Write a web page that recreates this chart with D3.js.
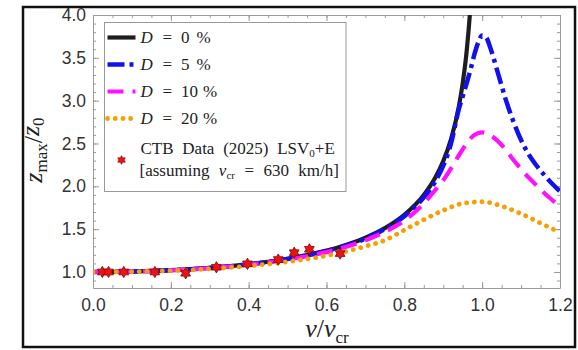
<!DOCTYPE html>
<html><head><meta charset="utf-8">
<script src="https://cdn.jsdelivr.net/npm/d3@7"></script>
<style>
html,body{margin:0;padding:0;background:#fff;}
svg{display:block;}
</style></head>
<body>
<svg id="chart" width="578" height="350"></svg>
<script>
// ---- data ----
const xTickVals = [0.0, 0.2, 0.4, 0.6, 0.8, 1.0, 1.2];
const xTickLabels = ["0.0", "0.2", "0.4", "0.6", "0.8", "1.0", "1.2"];
const yTickVals = [1.0, 1.5, 2.0, 2.5, 3.0, 3.5, 4.0];
const yTickLabels = ["1.0", "1.5", "2.0", "2.5", "3.0", "3.5", "4.0"];

const alphaD0 = [0, 0.1, 0.2, 0.3, 0.4, 0.5, 0.6, 0.65, 0.7, 0.75, 0.8, 0.85, 0.88, 0.9, 0.92, 0.94, 0.95, 0.96, 0.97, 0.975];
const zD0 = [1.000, 1.005, 1.021, 1.048, 1.091, 1.155, 1.250, 1.316, 1.400, 1.512, 1.667, 1.898, 2.105, 2.294, 2.551, 2.931, 3.203, 3.571, 4.113, 4.50];

const alphaD5 = [0, 0.1, 0.2, 0.3, 0.4, 0.5, 0.6, 0.7, 0.75, 0.8, 0.85, 0.88, 0.9, 0.92, 0.94, 0.95, 0.96, 0.97, 0.98, 0.99, 1.0, 1.01, 1.02, 1.04, 1.06, 1.08, 1.1, 1.12, 1.14, 1.16, 1.18, 1.2];
const zD5 = [1.000, 1.005, 1.020, 1.047, 1.089, 1.152, 1.245, 1.39, 1.50, 1.65, 1.87, 2.06, 2.24, 2.50, 2.90, 3.05, 3.20, 3.36, 3.54, 3.68, 3.76, 3.74, 3.63, 3.33, 3.02, 2.76, 2.54, 2.37, 2.24, 2.13, 2.03, 1.94];

const alphaD10 = [0, 0.1, 0.2, 0.3, 0.4, 0.5, 0.6, 0.7, 0.75, 0.8, 0.85, 0.88, 0.9, 0.92, 0.94, 0.96, 0.98, 1.0, 1.02, 1.04, 1.06, 1.08, 1.1, 1.12, 1.14, 1.16, 1.18, 1.2];
const zD10 = [1.000, 1.005, 1.019, 1.045, 1.085, 1.145, 1.232, 1.37, 1.47, 1.60, 1.80, 1.96, 2.07, 2.21, 2.36, 2.50, 2.60, 2.63, 2.60, 2.53, 2.43, 2.31, 2.20, 2.10, 2.01, 1.92, 1.84, 1.76];

const alphaD20 = [0, 0.1, 0.2, 0.3, 0.4, 0.5, 0.6, 0.7, 0.75, 0.8, 0.85, 0.9, 0.95, 1.0, 1.05, 1.1, 1.15, 1.2];
const zD20 = [1.000, 1.003, 1.015, 1.036, 1.07, 1.12, 1.19, 1.30, 1.37, 1.49, 1.61, 1.72, 1.80, 1.82, 1.77, 1.68, 1.57, 1.46];

const ctbV = [0.024, 0.040, 0.079, 0.159, 0.238, 0.317, 0.397, 0.476, 0.517, 0.556, 0.635];
const ctbZ = [1.00, 1.00, 1.00, 1.00, 0.985, 1.055, 1.095, 1.145, 1.225, 1.265, 1.215];

const seriesNames = ["0", "5", "10", "20"];

// ---- layout ----
const svg = d3.select("#chart");
const L = 93, R = 560, T = 15, B = 288;
const x = d3.scaleLinear().domain([0, 1.2]).range([L, R]);
const y = d3.scaleLinear().domain([0.813, 4.0]).range([B, T]);

// outer frame
svg.append("rect").attr("x", 23).attr("y", 7).attr("width", 552).attr("height", 340)
  .attr("fill", "#fff").attr("stroke", "#111").attr("stroke-width", 2.5);

// clip
svg.append("defs").append("clipPath").attr("id", "clip")
  .append("rect").attr("x", L).attr("y", T).attr("width", R - L).attr("height", B - T);

const axisColor = "#9a9a9a";
const tickFont = "'Liberation Sans', Arial, sans-serif";

const xMinor = d3.range(0, 1.2001, 0.05);
const yMinor = d3.range(0.9, 4.0001, 0.1);

function styleAxis(g) {
  g.select(".domain").attr("stroke", axisColor).attr("stroke-width", 1);
  g.selectAll(".tick line").attr("stroke", axisColor);
}

// bottom
const gxB = svg.append("g").attr("transform", `translate(0,${B})`)
  .call(d3.axisBottom(x).tickValues(xTickVals).tickFormat((d, i) => xTickLabels[i]).tickSizeInner(-6).tickSizeOuter(0).tickPadding(11));
styleAxis(gxB);
gxB.selectAll(".tick text").attr("font-family", tickFont).attr("font-size", 17.5).attr("fill", "#333");
svg.append("g").attr("transform", `translate(0,${B})`)
  .call(d3.axisBottom(x).tickValues(xMinor).tickFormat("").tickSizeInner(-3).tickSizeOuter(0))
  .call(g => { g.select(".domain").remove(); g.selectAll(".tick line").attr("stroke", axisColor); });
// top
const gxT = svg.append("g").attr("transform", `translate(0,${T})`)
  .call(d3.axisTop(x).tickValues(xTickVals).tickFormat("").tickSizeInner(-6).tickSizeOuter(0));
styleAxis(gxT);
svg.append("g").attr("transform", `translate(0,${T})`)
  .call(d3.axisTop(x).tickValues(xMinor).tickFormat("").tickSizeInner(-3).tickSizeOuter(0))
  .call(g => { g.select(".domain").remove(); g.selectAll(".tick line").attr("stroke", axisColor); });
// left
const gyL = svg.append("g").attr("transform", `translate(${L},0)`)
  .call(d3.axisLeft(y).tickValues(yTickVals).tickFormat((d, i) => yTickLabels[i]).tickSizeInner(-6).tickSizeOuter(0).tickPadding(7));
styleAxis(gyL);
gyL.selectAll(".tick text").attr("font-family", tickFont).attr("font-size", 17.5).attr("fill", "#333");
svg.append("g").attr("transform", `translate(${L},0)`)
  .call(d3.axisLeft(y).tickValues(yMinor).tickFormat("").tickSizeInner(-3).tickSizeOuter(0))
  .call(g => { g.select(".domain").remove(); g.selectAll(".tick line").attr("stroke", axisColor); });
// right
const gyR = svg.append("g").attr("transform", `translate(${R},0)`)
  .call(d3.axisRight(y).tickValues(yTickVals).tickFormat("").tickSizeInner(-6).tickSizeOuter(0));
styleAxis(gyR);
svg.append("g").attr("transform", `translate(${R},0)`)
  .call(d3.axisRight(y).tickValues(yMinor).tickFormat("").tickSizeInner(-3).tickSizeOuter(0))
  .call(g => { g.select(".domain").remove(); g.selectAll(".tick line").attr("stroke", axisColor); });

// ---- curves ----
const line = d3.line().x(d => x(d[0])).y(d => y(d[1])).curve(d3.curveMonotoneX);
const zip = (a, b) => a.map((v, i) => [v, b[i]]);

const styles = [
  { data: zip(alphaD0, zD0), color: "#1e1e1e", width: 4.2, dash: null, cap: "butt" },
  { data: zip(alphaD5, zD5), color: "#1010f0", width: 4.5, dash: "17,5,4,5", cap: "butt" },
  { data: zip(alphaD10, zD10), color: "#ff10ff", width: 4.2, dash: "16,9", cap: "butt" },
  { data: zip(alphaD20, zD20), color: "#f5a000", width: 4.8, dash: "0.1,7.6", cap: "round" }
];

const plot = svg.append("g").attr("clip-path", "url(#clip)");
styles.forEach(s => {
  plot.append("path").attr("d", line(s.data)).attr("fill", "none")
    .attr("stroke", s.color).attr("stroke-width", s.width)
    .attr("stroke-dasharray", s.dash).attr("stroke-linecap", s.cap);
});

// 6-pointed star symbol
const star6 = {
  draw(ctx, size) {
    const r = Math.sqrt(size / 2.2);
    const ri = r * 0.58;
    for (let i = 0; i < 12; i++) {
      const a = -Math.PI / 2 + i * Math.PI / 6;
      const rr = i % 2 === 0 ? r : ri;
      const px = rr * Math.cos(a), py = rr * Math.sin(a);
      if (i === 0) ctx.moveTo(px, py); else ctx.lineTo(px, py);
    }
    ctx.closePath();
  }
};

svg.append("g").selectAll("path").data(zip(ctbV, ctbZ)).join("path")
  .attr("transform", d => `translate(${x(d[0])},${y(d[1])})`)
  .attr("d", d3.symbol().type(star6).size(70))
  .attr("fill", "#ee1111").attr("stroke", "#7a0000").attr("stroke-width", 0.8);

// ---- legend ----
const serif = "'Liberation Serif', 'Times New Roman', serif";
const lg = svg.append("g");
lg.append("rect").attr("x", 104.5).attr("y", 22.5).attr("width", 241.5).attr("height", 169)
  .attr("fill", "#fff").attr("stroke", "#999").attr("stroke-width", 1);

const rowY = [37.5, 64.5, 91.5, 118.5];
styles.forEach((s, i) => {
  lg.append("path").attr("d", d3.line()([[107.5, rowY[i]], [135.5, rowY[i]]]))
    .attr("stroke", s.color).attr("stroke-width", s.width)
    .attr("stroke-dasharray", s.dash).attr("stroke-linecap", s.cap).attr("fill", "none");
  const t = lg.append("text").attr("x", 140.5).attr("y", rowY[i] + 5.5)
    .attr("font-family", serif).attr("font-size", 17).attr("fill", "#222");
  t.append("tspan").attr("font-style", "italic").text("D");
  t.append("tspan").attr("x", 162.5).text("=");
  t.append("tspan").attr("x", 181).text(seriesNames[i]);
  t.append("tspan").attr("x", seriesNames[i].length > 1 ? 203 : 196.5).text("%");
});

lg.append("path").attr("transform", "translate(121.5,160)")
  .attr("d", d3.symbol().type(star6).size(42))
  .attr("fill", "#ee1111").attr("stroke", "#7a0000").attr("stroke-width", 0.6);

const l1 = lg.append("text").attr("x", 140.5).attr("y", 153.5)
  .attr("font-family", serif).attr("font-size", 17).attr("fill", "#222")
  .attr("word-spacing", 4.5);
l1.append("tspan").text("CTB Data (2025) LSV");
l1.append("tspan").attr("font-size", 11).attr("dy", 3).text("0");
l1.append("tspan").attr("dy", -3).text("+E");

const l2 = lg.append("text").attr("x", 139.5).attr("y", 175.5)
  .attr("font-family", serif).attr("font-size", 17).attr("fill", "#222")
  .attr("word-spacing", 5.2);
l2.append("tspan").text("[assuming ");
l2.append("tspan").attr("font-style", "italic").text("v");
l2.append("tspan").attr("font-size", 11).attr("dy", 3).text("cr");
l2.append("tspan").attr("dy", -3).text(" = 630 km/h]");

// ---- axis labels ----
const xl = svg.append("text").attr("x", 327).attr("y", 336.5).attr("text-anchor", "middle")
  .attr("font-family", serif).attr("font-size", 26).attr("fill", "#222");
xl.append("tspan").attr("font-style", "italic").text("v");
xl.append("tspan").text("/");
xl.append("tspan").attr("font-style", "italic").text("v");
xl.append("tspan").attr("font-size", 17).attr("dy", 6).text("cr");

const yl = svg.append("text").attr("transform", "translate(42,150) rotate(-90)")
  .attr("text-anchor", "middle")
  .attr("font-family", serif).attr("font-size", 26).attr("fill", "#222");
yl.append("tspan").attr("font-style", "italic").text("z");
yl.append("tspan").attr("font-size", 17).attr("dy", 5).text("max");
yl.append("tspan").attr("dy", -5).text("/");
yl.append("tspan").attr("font-style", "italic").attr("dy", -3).text("z");
yl.append("tspan").attr("font-size", 17).attr("dy", 5).text("0");
</script>
</body></html>
